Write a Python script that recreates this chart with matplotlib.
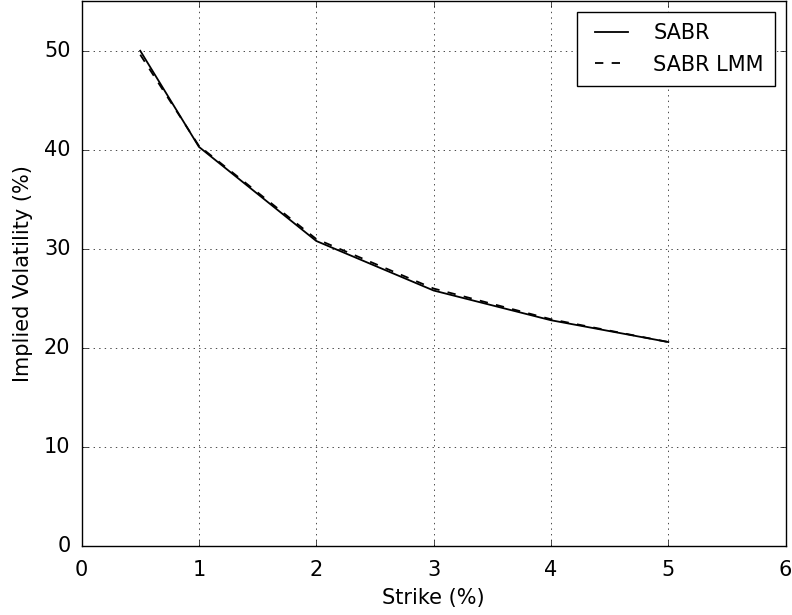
import matplotlib
matplotlib.use("Agg")
import matplotlib.pyplot as plt

# strikes in percent and implied vols in percent
strikes = [0.5, 1.0, 2.0, 3.0, 4.0, 5.0]
sabr_vol = [50.0, 40.3, 30.8, 25.8, 22.8, 20.6]
sabr_lmm_vol = [49.6, 40.4, 31.0, 26.0, 22.9, 20.6]

plt.style.use("classic")
fig = plt.figure(figsize=(7.92, 6.15), dpi=100)
ax = fig.add_axes([0.103, 0.112, 0.889, 0.886])

ax.plot(strikes, sabr_vol, "k-", lw=1.3, label="SABR")
ax.plot(strikes, sabr_lmm_vol, "k--", lw=1.3, label="SABR LMM")

ax.set_xlim(0, 6)
ax.set_ylim(0, 55)
ax.set_xlabel("Strike (%)", fontsize=15, labelpad=6)
ax.set_ylabel("Implied Volatility (%)", fontsize=15, labelpad=8)
ax.tick_params(axis="x", labelsize=15, pad=10)
ax.tick_params(axis="y", labelsize=15, pad=8)
ax.grid(True)
ax.legend(loc="upper right", fontsize=15, borderpad=0.55, labelspacing=0.55,
          handlelength=2.2, handletextpad=0.9)

fig.savefig("out.png", dpi=100)
